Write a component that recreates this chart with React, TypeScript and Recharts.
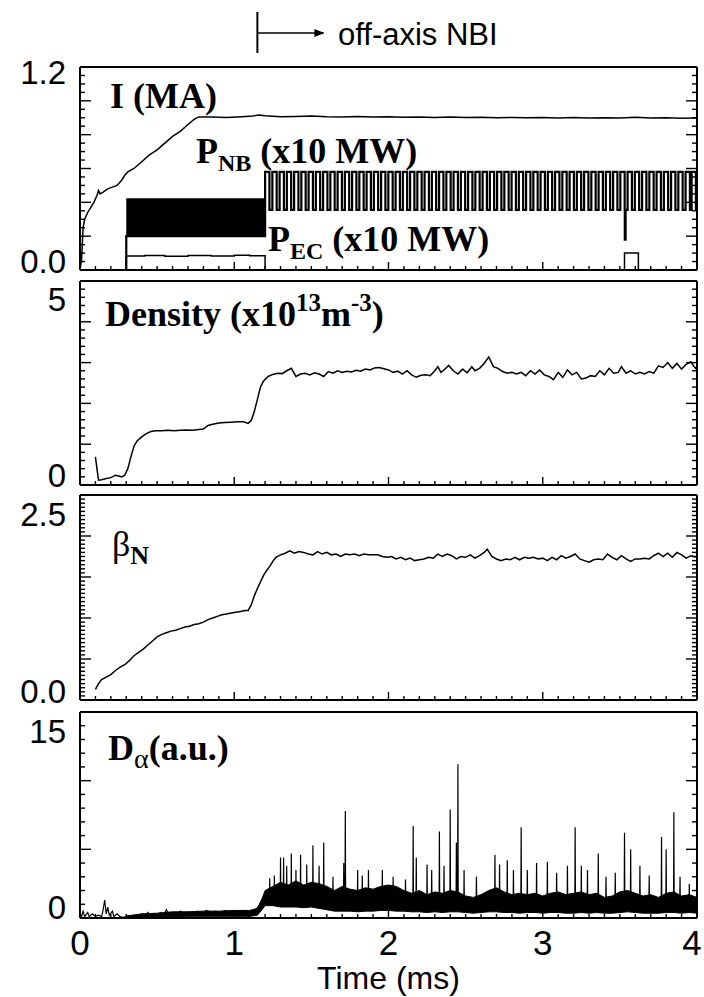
import React from "react";
import { ComposedChart, Line, Area, XAxis, YAxis } from "recharts";

// ---------- values ----------
const timeMajor = [0, 1, 2, 3, 4];
const timeLabels = ["0", "1", "2", "3", "4"];

// plasma current I (MA): [time ms, value]
const plasmaCurrent: [number, number][] = [
  [0, 0], [0.01, 0.06], [0.02, 0.25], [0.03, 0.3], [0.05, 0.34], [0.07, 0.37], [0.09, 0.4],
  [0.11, 0.44], [0.12, 0.47], [0.13, 0.45], [0.15, 0.46], [0.18, 0.48], [0.21, 0.49],
  [0.24, 0.5], [0.27, 0.53], [0.29, 0.56], [0.31, 0.58], [0.35, 0.6], [0.4, 0.64],
  [0.45, 0.68], [0.5, 0.71], [0.55, 0.75], [0.6, 0.79], [0.65, 0.82], [0.7, 0.86],
  [0.74, 0.89], [0.77, 0.905], [0.85, 0.904], [0.95, 0.902], [1.05, 0.906], [1.12, 0.91],
  [1.16, 0.916], [1.2, 0.912], [1.3, 0.906], [1.4, 0.907], [1.5, 0.91], [1.6, 0.906],
  [1.7, 0.905], [1.8, 0.908], [1.9, 0.904], [2.0, 0.906], [2.1, 0.903], [2.2, 0.905],
  [2.3, 0.902], [2.4, 0.904], [2.5, 0.901], [2.6, 0.903], [2.7, 0.9], [2.8, 0.902],
  [2.9, 0.9], [3.0, 0.902], [3.1, 0.899], [3.2, 0.901], [3.3, 0.898], [3.4, 0.9],
  [3.5, 0.899], [3.6, 0.903], [3.7, 0.898], [3.8, 0.9], [3.9, 0.897], [4.0, 0.899],
];

// P_NB: dense modulated burst [time, low, high], then discrete pulses
const pnbBurst: [number, number, number][] = [[0.3, 0.2, 0.42], [1.2, 0.2, 0.42]];
const pnbLead: [number, number][] = [[0, 0], [0.3, 0.2]];
const pnbPulseOn = [
  1.2, 1.247, 1.294, 1.341, 1.388, 1.435, 1.482, 1.529, 1.576, 1.623, 1.67, 1.717, 1.764,
  1.811, 1.858, 1.905, 1.952, 1.999, 2.046, 2.093, 2.14, 2.187, 2.234, 2.281, 2.328, 2.375,
  2.422, 2.469, 2.516, 2.563, 2.61, 2.657, 2.704, 2.751, 2.798, 2.845, 2.892, 2.939, 2.986,
  3.033, 3.08, 3.127, 3.174, 3.221, 3.268, 3.315, 3.362, 3.409, 3.456, 3.503, 3.55, 3.597,
  3.644, 3.691, 3.738, 3.785, 3.832, 3.879, 3.926, 3.965,
];
const pnbHigh = 0.58;
const pnbLow = 0.355;
const pnbPulseLen = 0.028;
const pnbDip: [number, number][] = [[3.532, 0.18], [3.537, 0.355]];

// P_EC step trace
const pecPower: [number, number][] = [
  [0, 0], [0.3, 0.083], [0.42, 0.086], [0.55, 0.082], [0.7, 0.085], [0.85, 0.083],
  [1.0, 0.087], [1.1, 0.084], [1.2, 0], [3.53, 0.1], [3.62, 0], [4.0, 0],
];

// line-averaged density (1e13 m^-3)
const density: [number, number][] = [
  [0.1, 0.69], [0.11, 0.4], [0.12, 0.12], [0.14, 0.13], [0.17, 0.16], [0.2, 0.18], [0.23, 0.24],
  [0.25, 0.22], [0.27, 0.2], [0.29, 0.24], [0.31, 0.4], [0.33, 0.69], [0.35, 0.95], [0.37, 1.08],
  [0.4, 1.18], [0.43, 1.26], [0.46, 1.31], [0.49, 1.33], [0.53, 1.33], [0.57, 1.34], [0.61, 1.33],
  [0.65, 1.34], [0.69, 1.35], [0.73, 1.34], [0.77, 1.36], [0.8, 1.37], [0.83, 1.46], [0.86, 1.49],
  [0.9, 1.52], [0.94, 1.53], [0.98, 1.54], [1.02, 1.55], [1.06, 1.55], [1.09, 1.51], [1.11, 1.58],
  [1.13, 1.8], [1.15, 2.1], [1.17, 2.4], [1.19, 2.55], [1.22, 2.66], [1.25, 2.71], [1.28, 2.74],
  [1.31, 2.73], [1.34, 2.8], [1.37, 2.86], [1.4, 2.66], [1.43, 2.72], [1.46, 2.74], [1.49, 2.7],
  [1.52, 2.75], [1.55, 2.72], [1.58, 2.66], [1.61, 2.78], [1.64, 2.74], [1.67, 2.8], [1.7, 2.76],
  [1.73, 2.79], [1.76, 2.77], [1.79, 2.81], [1.82, 2.79], [1.85, 2.84], [1.88, 2.82], [1.91, 2.87],
  [1.94, 2.88], [1.97, 2.85], [2.0, 2.82], [2.03, 2.76], [2.06, 2.79], [2.09, 2.72], [2.12, 2.8],
  [2.15, 2.7], [2.18, 2.64], [2.21, 2.69], [2.24, 2.7], [2.27, 2.68], [2.3, 2.8], [2.32, 2.9],
  [2.34, 2.76], [2.36, 2.82], [2.39, 2.93], [2.42, 2.8], [2.45, 2.72], [2.48, 2.84], [2.51, 2.75],
  [2.54, 2.9], [2.56, 2.8], [2.59, 2.86], [2.62, 2.98], [2.65, 3.14], [2.68, 2.9], [2.71, 2.86],
  [2.74, 2.78], [2.77, 2.74], [2.8, 2.76], [2.83, 2.72], [2.86, 2.76], [2.89, 2.68], [2.92, 2.8],
  [2.95, 2.72], [2.98, 2.82], [3.01, 2.7], [3.04, 2.66], [3.07, 2.58], [3.1, 2.76], [3.13, 2.64],
  [3.16, 2.82], [3.19, 2.7], [3.22, 2.76], [3.25, 2.6], [3.28, 2.62], [3.31, 2.68], [3.34, 2.66],
  [3.37, 2.8], [3.4, 2.7], [3.43, 2.86], [3.46, 2.74], [3.49, 2.76], [3.51, 2.9], [3.54, 2.74],
  [3.57, 2.8], [3.6, 2.72], [3.63, 2.76], [3.66, 2.72], [3.69, 2.78], [3.72, 2.74], [3.75, 2.92],
  [3.78, 2.88], [3.81, 3.0], [3.84, 2.86], [3.87, 2.98], [3.9, 2.84], [3.93, 2.96], [3.96, 3.02],
  [3.99, 2.86], [4.0, 2.9],
];

// normalised beta
const betaN: [number, number][] = [
  [0.1, 0.13], [0.12, 0.2], [0.14, 0.25], [0.17, 0.28], [0.2, 0.31], [0.23, 0.36], [0.26, 0.4],
  [0.29, 0.43], [0.32, 0.48], [0.35, 0.54], [0.38, 0.58], [0.41, 0.62], [0.44, 0.67], [0.47, 0.72],
  [0.5, 0.77], [0.53, 0.8], [0.56, 0.82], [0.59, 0.84], [0.62, 0.85], [0.65, 0.87], [0.68, 0.89],
  [0.71, 0.9], [0.74, 0.92], [0.77, 0.93], [0.8, 0.95], [0.83, 0.98], [0.86, 1.0], [0.89, 1.02],
  [0.92, 1.04], [0.95, 1.05], [0.98, 1.06], [1.01, 1.07], [1.04, 1.08], [1.07, 1.09], [1.09, 1.09],
  [1.11, 1.16], [1.13, 1.27], [1.15, 1.36], [1.17, 1.44], [1.19, 1.52], [1.21, 1.58], [1.23, 1.63],
  [1.25, 1.69], [1.27, 1.74], [1.3, 1.77], [1.33, 1.79], [1.36, 1.82], [1.39, 1.79], [1.42, 1.81],
  [1.45, 1.8], [1.48, 1.78], [1.51, 1.77], [1.54, 1.81], [1.57, 1.78], [1.6, 1.8], [1.63, 1.77],
  [1.66, 1.78], [1.69, 1.75], [1.72, 1.78], [1.75, 1.77], [1.78, 1.78], [1.81, 1.76], [1.84, 1.78],
  [1.87, 1.77], [1.9, 1.77], [1.93, 1.77], [1.96, 1.75], [1.99, 1.74], [2.02, 1.75], [2.05, 1.72],
  [2.08, 1.74], [2.11, 1.71], [2.14, 1.73], [2.17, 1.7], [2.2, 1.71], [2.23, 1.72], [2.26, 1.74],
  [2.29, 1.73], [2.32, 1.78], [2.35, 1.75], [2.38, 1.78], [2.41, 1.76], [2.44, 1.72], [2.47, 1.75],
  [2.5, 1.74], [2.53, 1.77], [2.56, 1.73], [2.59, 1.76], [2.62, 1.8], [2.64, 1.84], [2.67, 1.75],
  [2.7, 1.72], [2.73, 1.7], [2.76, 1.72], [2.79, 1.71], [2.82, 1.74], [2.85, 1.71], [2.88, 1.74],
  [2.91, 1.73], [2.94, 1.74], [2.97, 1.72], [3.0, 1.73], [3.03, 1.7], [3.06, 1.74], [3.09, 1.71],
  [3.12, 1.76], [3.15, 1.73], [3.18, 1.75], [3.21, 1.78], [3.24, 1.72], [3.27, 1.7], [3.3, 1.68],
  [3.33, 1.71], [3.36, 1.72], [3.39, 1.71], [3.42, 1.78], [3.45, 1.74], [3.48, 1.71], [3.51, 1.76],
  [3.54, 1.72], [3.57, 1.69], [3.6, 1.72], [3.63, 1.72], [3.66, 1.73], [3.69, 1.72], [3.72, 1.76],
  [3.75, 1.79], [3.78, 1.75], [3.81, 1.79], [3.84, 1.74], [3.87, 1.8], [3.9, 1.77], [3.93, 1.73],
  [3.96, 1.76], [4.0, 1.74],
];

// D-alpha: early trace, noisy band [t, low, high], and ELM spikes [t, peak]
const dAlphaEarly: [number, number][] = [
  [0, 0.3], [0.01, 0.1], [0.02, 0.5], [0.03, 0.1], [0.05, 0.4], [0.06, 0.1], [0.08, 0.3],
  [0.1, 0.1], [0.12, 0.2], [0.14, 0.1], [0.15, 0.6], [0.16, 1.3], [0.17, 0.3], [0.18, 0.8],
  [0.19, 0.2], [0.21, 0.5], [0.22, 0.1], [0.24, 0.3], [0.26, 0.1], [0.28, 0.05], [0.3, 0.1],
  [0.33, 0.05], [0.36, 0.15], [0.38, 0.1], [0.4, 0.3], [0.42, 0.1], [0.44, 0.4], [0.46, 0.15],
  [0.48, 0.3], [0.5, 0.2], [0.52, 0.4], [0.54, 0.2], [0.56, 0.6], [0.58, 0.2], [0.6, 0.4],
  [0.62, 0.25], [0.65, 0.5], [0.68, 0.3], [0.7, 0.45], [0.73, 0.3], [0.76, 0.5], [0.79, 0.35],
  [0.82, 0.55], [0.85, 0.4], [0.88, 0.5], [0.91, 0.35], [0.94, 0.55], [0.97, 0.4], [1.0, 0.5],
  [1.03, 0.45], [1.06, 0.55], [1.09, 0.45], [1.12, 0.5], [1.14, 0.6], [1.16, 0.9], [1.18, 1.2],
];
const dAlphaBand: [number, number, number][] = [
  [0.3, 0.05, 0.15], [0.4, 0.05, 0.3], [0.5, 0.08, 0.35], [0.6, 0.1, 0.45], [0.7, 0.12, 0.45],
  [0.8, 0.12, 0.5], [0.9, 0.12, 0.5], [1.0, 0.12, 0.55], [1.1, 0.12, 0.55], [1.15, 0.2, 0.7],
  [1.18, 0.6, 1.4], [1.2, 0.9, 2.0], [1.25, 0.9, 2.3], [1.3, 0.8, 2.6], [1.35, 0.8, 2.4],
  [1.4, 0.8, 2.7], [1.45, 0.75, 2.4], [1.5, 0.8, 2.6], [1.55, 0.7, 2.5], [1.6, 0.6, 2.3],
  [1.65, 0.5, 2.0], [1.7, 0.5, 2.3], [1.75, 0.5, 2.1], [1.8, 0.45, 2.0], [1.85, 0.5, 2.2],
  [1.9, 0.5, 2.1], [1.95, 0.55, 2.3], [2.0, 0.55, 2.4], [2.05, 0.5, 2.3], [2.1, 0.5, 2.0],
  [2.15, 0.45, 1.8], [2.2, 0.45, 2.0], [2.25, 0.4, 1.7], [2.3, 0.45, 1.9], [2.35, 0.4, 1.8],
  [2.4, 0.45, 2.0], [2.45, 0.45, 1.9], [2.5, 0.4, 1.6], [2.55, 0.35, 1.5], [2.6, 0.4, 1.7],
  [2.65, 0.45, 2.0], [2.7, 0.45, 2.2], [2.75, 0.4, 1.9], [2.8, 0.4, 1.7], [2.85, 0.35, 1.8],
  [2.9, 0.4, 1.7], [2.95, 0.4, 1.8], [3.0, 0.35, 1.6], [3.05, 0.4, 1.8], [3.1, 0.4, 1.9],
  [3.15, 0.35, 1.7], [3.2, 0.35, 1.8], [3.25, 0.4, 1.9], [3.3, 0.35, 1.7], [3.35, 0.4, 1.8],
  [3.4, 0.35, 1.5], [3.45, 0.35, 1.6], [3.5, 0.4, 1.9], [3.55, 0.45, 2.0], [3.6, 0.4, 1.8],
  [3.65, 0.35, 1.6], [3.7, 0.35, 1.7], [3.75, 0.35, 1.5], [3.8, 0.4, 1.8], [3.85, 0.4, 1.9],
  [3.9, 0.35, 1.6], [3.95, 0.4, 1.7], [4.0, 0.35, 1.5],
];
const dAlphaSpikes: [number, number][] = [
  [1.23, 2.9], [1.26, 3.1], [1.3, 4.4], [1.32, 4.4], [1.34, 3.8], [1.37, 4.7], [1.4, 3.5],
  [1.43, 4.6], [1.47, 3.9], [1.51, 5.3], [1.55, 3.8], [1.58, 5.5], [1.64, 3.0], [1.71, 4.0],
  [1.72, 7.8], [1.8, 3.5], [1.83, 3.1], [1.87, 3.5], [1.96, 3.5], [2.03, 3.0], [2.11, 2.8],
  [2.16, 6.7], [2.18, 4.4], [2.25, 3.9], [2.28, 3.5], [2.33, 6.3], [2.36, 3.8], [2.4, 7.9],
  [2.44, 5.5], [2.45, 11.2], [2.49, 3.5], [2.57, 3.0], [2.69, 4.6], [2.72, 3.9], [2.77, 4.2],
  [2.81, 3.5], [2.86, 6.6], [2.9, 3.5], [2.96, 4.0], [3.03, 4.1], [3.09, 3.3], [3.16, 3.8],
  [3.21, 6.6], [3.25, 3.8], [3.29, 3.5], [3.36, 4.7], [3.41, 3.0], [3.47, 3.3], [3.53, 6.2],
  [3.57, 5.0], [3.63, 3.8], [3.69, 3.1], [3.77, 5.9], [3.8, 5.0], [3.85, 7.7], [3.89, 3.0],
  [3.95, 2.5],
];
const spikeBase = 1.0;

// ---------- build tables for the library ----------
const pts = (arr: [number, number][]) => arr.map(([t, v]) => ({ t, v }));
const rng = (arr: [number, number, number][]) => arr.map(([t, lo, hi]) => ({ t, r: [lo, hi] }));

const pnbSteps: [number, number][] = [...pnbLead, ...pnbDip];
pnbPulseOn.forEach((on) => {
  pnbSteps.push([on, pnbHigh]);
  pnbSteps.push([+(on + pnbPulseLen).toFixed(3), pnbLow]);
});
pnbSteps.sort((a, b) => a[0] - b[0]);

const spikeLine: { t: number; v: number }[] = [];
dAlphaSpikes.forEach(([t, h]) => {
  spikeLine.push({ t: t - 0.002, v: spikeBase });
  spikeLine.push({ t, v: h });
  spikeLine.push({ t: t + 0.002, v: spikeBase });
});

const steps = (lo: number, hi: number, step: number) => {
  const out: number[] = [];
  const n = Math.round((hi - lo) / step);
  for (let i = 0; i <= n; i++) out.push(+(lo + i * step).toFixed(4));
  return out;
};

// ---------- layout ----------
const PLOT_LEFT = 80;
const PLOT_RIGHT = 697;
const W = 704;
const PAD = 22; // room above/below each plot for the inset tick labels
const SANS = "'Liberation Sans', Arial, Helvetica, sans-serif";
const SERIF = "'Liberation Serif', 'Times New Roman', serif";
const frame = { stroke: "#000", strokeWidth: 2 };
const timeTicks = steps(0, 4, 0.1);

type YLab = { value: number; text: string; dy: number };

const isIn = (list: number[], v: number) => list.some((m) => Math.abs(m - v) < 1e-6);

function yTick(side: "left" | "right", major: number[], labels: YLab[]) {
  return (p: any) => {
    const v = p.payload.value;
    const len = isIn(major, v) ? 11 : 5;
    const dir = side === "left" ? 1 : -1;
    const lab = side === "left" ? labels.find((l) => Math.abs(l.value - v) < 1e-6) : undefined;
    return (
      <g>
        <line x1={p.x} y1={p.y} x2={p.x + dir * len} y2={p.y} stroke="#000" strokeWidth={1.4} />
        {lab && (
          <text x={p.x - 14} y={p.y + lab.dy} textAnchor="end" dominantBaseline="central"
            fontSize={33} fontFamily={SANS} fill="#000">{lab.text}</text>
        )}
      </g>
    );
  };
}

function xTick(side: "top" | "bottom", showLabels: boolean) {
  return (p: any) => {
    const v = p.payload.value;
    const major = isIn(timeMajor, v);
    const len = major ? 8 : 4;
    const dir = side === "bottom" ? -1 : 1;
    const idx = timeMajor.findIndex((m) => Math.abs(m - v) < 1e-6);
    const last = idx === timeMajor.length - 1;
    return (
      <g>
        <line x1={p.x} y1={p.y} x2={p.x} y2={p.y + dir * len} stroke="#000" strokeWidth={1.4} />
        {showLabels && idx >= 0 && (
          <text x={last ? p.x - 5 : p.x} y={p.y + 24} textAnchor="middle" dominantBaseline="central"
            fontSize={35} fontFamily={SANS} fill="#000">{timeLabels[idx]}</text>
        )}
      </g>
    );
  };
}

type PanelProps = {
  top: number;
  height: number;
  domain: [number, number];
  minor: number;
  major: number[];
  labels: YLab[];
  bottomPad?: number;
  showTimeLabels?: boolean;
  children: React.ReactNode;
};

function Panel({ top, height, domain, minor, major, labels, bottomPad = PAD, showTimeLabels = false, children }: PanelProps) {
  const yTicks = steps(domain[0], domain[1], minor);
  return (
    <div style={{ position: "absolute", left: 0, top: top - PAD }}>
      <ComposedChart width={W} height={height + PAD + bottomPad}
        margin={{ top: PAD - 1, right: W - PLOT_RIGHT - 1, bottom: bottomPad - 1, left: 0 }}>
        <XAxis dataKey="t" type="number" domain={[0, 4]} ticks={timeTicks} interval={0}
          allowDataOverflow tickSize={0} tickMargin={0} height={1} axisLine={frame}
          tick={xTick("bottom", showTimeLabels)} />
        <XAxis xAxisId="top" orientation="top" type="number" domain={[0, 4]} ticks={timeTicks}
          interval={0} allowDataOverflow tickSize={0} tickMargin={0} height={1} axisLine={frame}
          tick={xTick("top", false)} />
        <YAxis type="number" domain={domain} ticks={yTicks} interval={0} allowDataOverflow
          tickSize={0} tickMargin={0} width={PLOT_LEFT} axisLine={frame}
          tick={yTick("left", major, labels)} />
        <YAxis yAxisId="r" orientation="right" type="number" domain={domain} ticks={yTicks}
          interval={0} allowDataOverflow tickSize={0} tickMargin={0} width={1} axisLine={frame}
          tick={yTick("right", major, labels)} />
        {children}
      </ComposedChart>
    </div>
  );
}

const lineProps = {
  dataKey: "v",
  stroke: "#000",
  strokeWidth: 1.5,
  dot: false,
  activeDot: false,
  isAnimationActive: false,
} as const;

export default function App() {
  const arrowX = PLOT_LEFT + (1.15 / 4) * (PLOT_RIGHT - PLOT_LEFT);
  return (
    <div style={{ position: "absolute", left: 0, top: 0, width: W, height: 997, background: "#fff" }}>
      <Panel top={67} height={203} domain={[0, 1.2]} minor={0.05} major={steps(0, 1.2, 0.2)}
        labels={[{ value: 1.2, text: "1.2", dy: 5 }, { value: 0, text: "0.0", dy: -9 }]}>
        <Area data={rng(pnbBurst)} dataKey="r" type="linear" stroke="#000" strokeWidth={1.5}
          fill="#000" fillOpacity={1} isAnimationActive={false} dot={false} activeDot={false} />
        <Line {...lineProps} data={pts(pnbSteps)} type="stepAfter" strokeWidth={2.2} />
        <Line {...lineProps} data={pts(pecPower)} type="stepAfter" />
        <Line {...lineProps} data={pts(plasmaCurrent)} type="linear" />
      </Panel>

      <Panel top={281} height={204} domain={[0, 5]} minor={0.2} major={steps(0, 5, 1)}
        labels={[{ value: 5, text: "5", dy: 18 }, { value: 0, text: "0", dy: -10 }]}>
        <Line {...lineProps} data={pts(density)} type="linear" />
      </Panel>

      <Panel top={495} height={205} domain={[0, 2.5]} minor={0.05} major={steps(0, 2.5, 0.5)}
        labels={[{ value: 2.5, text: "2.5", dy: 19 }, { value: 0, text: "0.0", dy: -9 }]}>
        <Line {...lineProps} data={pts(betaN)} type="linear" />
      </Panel>

      <Panel top={712} height={206} domain={[0, 15]} minor={1} major={steps(0, 15, 5)}
        labels={[{ value: 15, text: "15", dy: 19 }, { value: 0, text: "0", dy: -11 }]}
        bottomPad={79} showTimeLabels>
        <Area data={rng(dAlphaBand)} dataKey="r" type="linear" stroke="#000" strokeWidth={1}
          fill="#000" fillOpacity={1} isAnimationActive={false} dot={false} activeDot={false} />
        <Line {...lineProps} data={pts(dAlphaEarly)} type="linear" strokeWidth={1.2} />
        <Line {...lineProps} data={spikeLine} type="linear" strokeWidth={1.2} />
      </Panel>

      <svg width={W} height={997} style={{ position: "absolute", left: 0, top: 0, pointerEvents: "none" }}>
        <defs>
          <marker id="ah" markerWidth="10" markerHeight="8" refX="9" refY="4" orient="auto"
            markerUnits="userSpaceOnUse">
            <path d="M0,0 L10,4 L0,8 Z" fill="#000" />
          </marker>
        </defs>
        <line x1={arrowX} y1={12} x2={arrowX} y2={53} stroke="#000" strokeWidth={2} />
        <line x1={arrowX} y1={33} x2={arrowX + 66} y2={33} stroke="#000" strokeWidth={1.6}
          markerEnd="url(#ah)" />
        <text x={338} y={45} fontSize={31} fontFamily={SANS} fill="#000">off-axis NBI</text>

        <text x={(PLOT_LEFT + PLOT_RIGHT) / 2} y={978} textAnchor="middle" dominantBaseline="central"
          fontSize={32} fontFamily={SANS} fill="#000">Time (ms)</text>

        <g fontFamily={SERIF} fontWeight="bold" fill="#000" fontSize={36}>
          <text x={110} y={108}>I (MA)</text>
          <text x={196} y={163}>P<tspan fontSize={24} dy={8}>NB</tspan>
            <tspan dy={-8}> (x10 MW)</tspan></text>
          <text x={268} y={251}>P<tspan fontSize={24} dy={8}>EC</tspan>
            <tspan dy={-8}> (x10 MW)</tspan></text>
          <text x={105} y={326}>Density (x10<tspan fontSize={25} dy={-15}>13</tspan>
            <tspan dy={15}>m</tspan><tspan fontSize={25} dy={-15}>-3</tspan>
            <tspan dy={15}>)</tspan></text>
          <text x={112} y={556}><tspan fontWeight="normal">β</tspan>
            <tspan fontSize={26} dy={8}>N</tspan></text>
          <text x={108} y={760}>D<tspan fontWeight="normal" fontSize={28} dy={8}>α</tspan>
            <tspan dy={-8}>(a.u.)</tspan></text>
        </g>
      </svg>
    </div>
  );
}
